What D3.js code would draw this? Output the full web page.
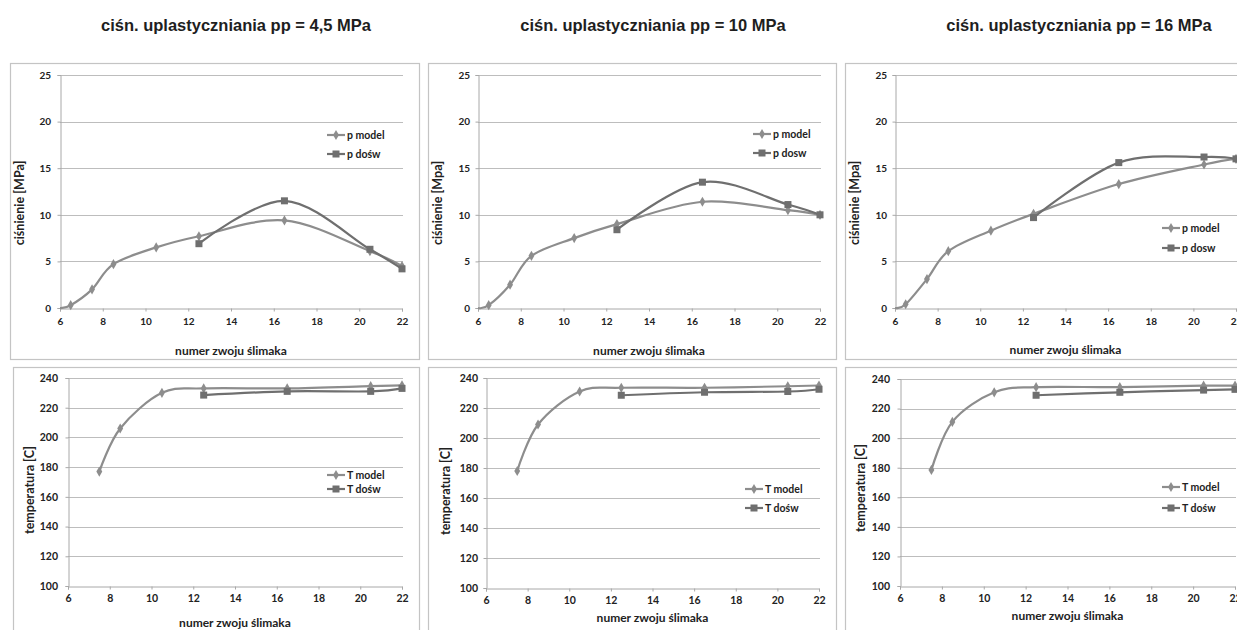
<!DOCTYPE html>
<html>
<head>
<meta charset="utf-8">
<script src="https://cdn.jsdelivr.net/npm/d3@7"></script>
<style>
  html, body { margin: 0; padding: 0; background: #fff; overflow: hidden; }
  svg { display: block; }
</style>
</head>
<body>
<svg id="chart" width="1237" height="630"></svg>
<script>
// Screw turn numbers (x values)
const pTurns = [6, 6.5, 7.5, 8.5, 10.5, 12.5, 16.5, 20.5, 22];
const tTurns = [7.5, 8.5, 10.5, 12.5, 16.5, 20.5, 22];
const expTurns = [12.5, 16.5, 20.5, 22];

// Plasticizing pressure cases
const titles = [
  "ciśn. uplastyczniania pp = 4,5 MPa",
  "ciśn. uplastyczniania pp = 10 MPa",
  "ciśn. uplastyczniania pp = 16 MPa"
];

// Pressure [MPa] – model and experiment
const pModel45 = [0, 0.3, 2.0, 4.7, 6.5, 7.7, 9.4, 6.1, 4.5];
const pExp45   = [6.9, 11.5, 6.3, 4.2];
const pModel10 = [0, 0.3, 2.5, 5.6, 7.5, 9.0, 11.4, 10.5, 10.0];
const pExp10   = [8.4, 13.5, 11.1, 10.0];
const pModel16 = [0, 0.4, 3.1, 6.1, 8.3, 10.1, 13.3, 15.4, 16.0];
const pExp16   = [9.7, 15.6, 16.2, 16.0];

// Temperature [C] – model and experiment
const tModel45 = [177, 206, 230, 233, 233, 234.5, 235];
const tExp45   = [228.5, 231, 231, 233];
const tModel10 = [178, 209, 231, 233.5, 233.5, 234.5, 235];
const tExp10   = [228.5, 230.5, 231, 232.5];
const tModel16 = [178.5, 211, 231, 234.5, 234.5, 235.5, 235.5];
const tExp16   = [229, 231, 232.5, 233];

// Axis ticks
const xTicks = [6, 8, 10, 12, 14, 16, 18, 20, 22];
const pTicks = [0, 5, 10, 15, 20, 25];
const tTicks = [100, 120, 140, 160, 180, 200, 220, 240];

const xLabel = "numer zwoju ślimaka";

const svg = d3.select("#chart");
const FONT = "Lato, 'Open Sans', sans-serif";
const COL_MODEL = "#8d8d8d";
const COL_EXP = "#6f6f6f";

// Column titles
const titleX = [236, 653, 1079];
titles.forEach((t, i) => {
  svg.append("text")
    .attr("x", titleX[i]).attr("y", 31)
    .attr("text-anchor", "middle")
    .attr("font-family", "'Liberation Sans', Arial, sans-serif")
    .attr("font-weight", "bold").attr("font-size", 16.5)
    .attr("fill", "#1e1e1e")
    .text(t);
});

const panels = [
  { frame: [10, 63, 409, 296], plot: [60, 402, 75, 308], domain: [0, 25], ticks: pTicks, tickFs: 10, tickRight: 51,
    yTitle: "ciśnienie  [MPa]", yTitleX: 24, yTitleY: 203, xTitleY: 355,
    model: pModel45, exp: pExp45, modelX: pTurns, names: ["p model", "p dośw"], legend: [327, 135, 154] },
  { frame: [428, 63, 408, 296], plot: [478, 820, 75, 308], domain: [0, 25], ticks: pTicks, tickFs: 10, tickRight: 470,
    yTitle: "ciśnienie  [Mpa]", yTitleX: 442, yTitleY: 203, xTitleY: 355,
    model: pModel10, exp: pExp10, modelX: pTurns, names: ["p model", "p dosw"], legend: [753, 134, 153] },
  { frame: [845, 63, 420, 296], plot: [895, 1236, 75, 308], domain: [0, 25], ticks: pTicks, tickFs: 10, tickRight: 887,
    yTitle: "ciśnienie  [Mpa]", yTitleX: 859, yTitleY: 203, xTitleY: 354,
    model: pModel16, exp: pExp16, modelX: pTurns, names: ["p model", "p dosw"], legend: [1162, 228, 248] },
  { frame: [13, 367, 406, 270], plot: [68, 402, 378, 586], domain: [100, 240], ticks: tTicks, tickFs: 10.5, tickRight: 58,
    yTitle: "temperatura  [C]", yTitleX: 34, yTitleY: 490, xTitleY: 627,
    model: tModel45, exp: tExp45, modelX: tTurns, names: ["T model", "T dośw"], legend: [327, 475, 489] },
  { frame: [428, 367, 408, 270], plot: [486, 819, 378, 588], domain: [100, 240], ticks: tTicks, tickFs: 10.5, tickRight: 478,
    yTitle: "temperatura  [C]", yTitleX: 450, yTitleY: 491, xTitleY: 622,
    model: tModel10, exp: tExp10, modelX: tTurns, names: ["T model", "T dośw"], legend: [745, 489, 508] },
  { frame: [845, 367, 420, 270], plot: [900, 1235, 379, 586], domain: [100, 240], ticks: tTicks, tickFs: 10.5, tickRight: 890,
    yTitle: "temperatura  [C]", yTitleX: 865, yTitleY: 488, xTitleY: 620,
    model: tModel16, exp: tExp16, modelX: tTurns, names: ["T model", "T dośw"], legend: [1162, 487, 508] }
];

const diamond = d3.symbol().type(d3.symbolDiamond).size(30);

function drawPanel(p) {
  const g = svg.append("g");
  const [fx, fy, fw, fh] = p.frame;
  g.append("rect")
    .attr("x", fx + 0.5).attr("y", fy + 0.5).attr("width", fw).attr("height", fh)
    .attr("fill", "#fff").attr("stroke", "#c4c4c4").attr("stroke-width", 1.2);

  const [x0, x1, yT, yB] = p.plot;
  const x = d3.scaleLinear().domain([6, 22]).range([x0, x1]);
  const y = d3.scaleLinear().domain(p.domain).range([yB, yT]);

  // horizontal gridlines
  g.append("g").selectAll("line").data(p.ticks.slice(1)).join("line")
    .attr("x1", x0).attr("x2", x1 + 1)
    .attr("y1", d => Math.round(y(d)) + 0.5).attr("y2", d => Math.round(y(d)) + 0.5)
    .attr("stroke", "#bdbdbd").attr("stroke-width", 1);

  // y axis
  const yAxis = d3.axisLeft(y).tickValues(p.ticks).tickSize(3).tickPadding(0);
  const ya = g.append("g").attr("transform", `translate(${Math.round(x0) + 0.5},0)`).call(yAxis);
  ya.select(".domain").attr("stroke", "#a8a8a8");
  ya.selectAll(".tick line").attr("stroke", "#a8a8a8");
  ya.selectAll(".tick text")
    .attr("x", p.tickRight - Math.round(x0) - 0.5)
    .attr("font-family", FONT).attr("font-weight", "bold").attr("font-size", p.tickFs).attr("fill", "#222");

  // x axis
  const xAxis = d3.axisBottom(x).tickValues(xTicks).tickSize(3).tickPadding(p.domain[0] === 0 ? 6 : 5);
  const xa = g.append("g").attr("transform", `translate(0,${Math.round(yB) + 0.5})`).call(xAxis);
  xa.select(".domain").attr("stroke", "#a8a8a8");
  xa.selectAll(".tick line").attr("stroke", "#a8a8a8");
  xa.selectAll(".tick text")
    .attr("font-family", FONT).attr("font-weight", "bold").attr("font-size", p.tickFs).attr("fill", "#222");

  // axis titles
  g.append("text")
    .attr("x", (x0 + x1) / 2).attr("y", p.xTitleY)
    .attr("text-anchor", "middle")
    .attr("font-family", FONT).attr("font-weight", "bold").attr("font-size", 12).attr("fill", "#222")
    .text(xLabel);
  g.append("text")
    .attr("transform", `translate(${p.yTitleX},${p.yTitleY}) rotate(-90)`)
    .attr("text-anchor", "middle")
    .attr("font-family", FONT).attr("font-weight", "bold").attr("font-size", 12.5).attr("fill", "#222")
    .text(p.yTitle);

  const line = d3.line().curve(d3.curveCatmullRom.alpha(0))
    .x(d => x(d[0])).y(d => y(d[1]));

  const modelPts = p.modelX.map((t, i) => [t, p.model[i]]);
  const expPts = expTurns.map((t, i) => [t, p.exp[i]]);

  g.append("path").datum(modelPts).attr("d", line)
    .attr("fill", "none").attr("stroke", COL_MODEL).attr("stroke-width", 2.2);
  g.append("path").datum(expPts).attr("d", line)
    .attr("fill", "none").attr("stroke", COL_EXP).attr("stroke-width", 2.2);

  // markers (the origin point sits on the axes and carries no marker)
  g.append("g").selectAll("path").data(modelPts.filter(d => d[0] > 6)).join("path")
    .attr("d", diamond)
    .attr("transform", d => `translate(${x(d[0])},${y(d[1])})`)
    .attr("fill", COL_MODEL);
  g.append("g").selectAll("rect").data(expPts).join("rect")
    .attr("x", d => x(d[0]) - 3.5).attr("y", d => y(d[1]) - 3.5)
    .attr("width", 7).attr("height", 7)
    .attr("fill", COL_EXP);

  // legend
  const [lx, ly1, ly2] = p.legend;
  const lg = g.append("g");
  [[ly1, COL_MODEL, "diamond", p.names[0]], [ly2, COL_EXP, "square", p.names[1]]].forEach(([ly, col, kind, name]) => {
    lg.append("line").attr("x1", lx).attr("x2", lx + 18).attr("y1", ly).attr("y2", ly)
      .attr("stroke", col).attr("stroke-width", 2.2);
    if (kind === "diamond") {
      lg.append("path").attr("d", diamond).attr("transform", `translate(${lx + 9},${ly})`).attr("fill", col);
    } else {
      lg.append("rect").attr("x", lx + 5.5).attr("y", ly - 3.5).attr("width", 7).attr("height", 7).attr("fill", col);
    }
    lg.append("text").attr("x", lx + 20).attr("y", ly).attr("dy", "0.35em")
      .attr("font-family", FONT).attr("font-weight", "bold").attr("font-size", 10.5).attr("fill", "#222")
      .text(name);
  });
}

panels.forEach(drawPanel);
</script>
</body>
</html>
